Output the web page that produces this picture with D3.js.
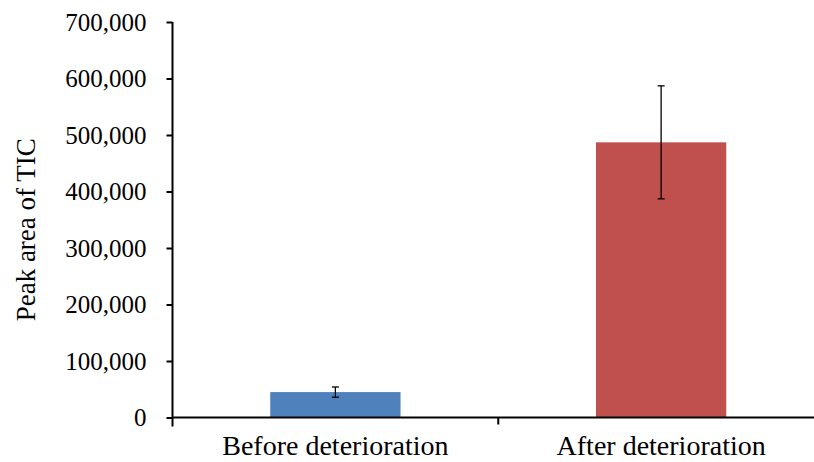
<!DOCTYPE html>
<html>
<head>
<meta charset="utf-8">
<script src="https://cdn.jsdelivr.net/npm/d3@7"></script>
<style>
  html, body { margin: 0; padding: 0; background: #fff; }
  svg { display: block; }
  text { font-family: "Liberation Serif", "Times New Roman", "DejaVu Serif", serif; fill: #000; }
</style>
</head>
<body>
<svg id="chart" width="814" height="462"></svg>
<script>
// Peak area of the total ion chromatogram, mean with standard deviation
const categories = ["Before deterioration", "After deterioration"];
const means = [45000, 487000];
const errors = [9000, 100000];
const colors = ["#4F81BD", "#C0504D"];
const yTicks = [0, 100000, 200000, 300000, 400000, 500000, 600000, 700000];
const yTitle = "Peak area of TIC";

const svg = d3.select("#chart");
const W = 814, H = 462;
const plotLeft = 172.5, plotTop = 22, plotBottom = 417.5, plotRight = 824;
const serif = "'Liberation Serif', 'Times New Roman', 'DejaVu Serif', serif";

const x = d3.scaleBand()
  .domain(categories)
  .range([plotLeft, plotRight])
  .paddingInner(0.6)
  .paddingOuter(0.3);

const y = d3.scaleLinear()
  .domain([0, 700000])
  .range([plotBottom, plotTop]);

const fmt = d3.format(",");

// Bars
svg.append("g")
  .selectAll("rect")
  .data(categories)
  .join("rect")
  .attr("x", d => x(d))
  .attr("width", x.bandwidth())
  .attr("y", (d, i) => y(means[i]))
  .attr("height", (d, i) => y(0) - y(means[i]))
  .attr("fill", (d, i) => colors[i]);

// Error bars
const eb = svg.append("g").attr("stroke", "#000").attr("stroke-width", 1.3);
categories.forEach((c, i) => {
  const cx = x(c) + x.bandwidth() / 2;
  const y0 = y(means[i] - errors[i]), y1 = y(means[i] + errors[i]);
  eb.append("line").attr("x1", cx).attr("x2", cx).attr("y1", y0).attr("y2", y1);
  eb.append("line").attr("x1", cx - 3.5).attr("x2", cx + 3.5).attr("y1", y0).attr("y2", y0);
  eb.append("line").attr("x1", cx - 3.5).attr("x2", cx + 3.5).attr("y1", y1).attr("y2", y1);
});

// Y axis
const yAxis = svg.append("g")
  .attr("transform", `translate(${plotLeft},0)`)
  .call(d3.axisLeft(y).tickValues(yTicks).tickFormat(fmt).tickSize(6).tickSizeOuter(0).tickPadding(20));
yAxis.attr("font-family", null);
yAxis.select(".domain").attr("stroke", "#000").attr("stroke-width", 2)
  .attr("d", `M0,${plotTop}V${plotBottom + 9}`);
yAxis.selectAll(".tick line").attr("stroke", "#000").attr("stroke-width", 2);
yAxis.selectAll(".tick text")
  .style("font-family", serif)
  .style("font-size", "25px").attr("fill", "#000");

// X axis with boundary ticks between categories
const xAxisG = svg.append("g");
xAxisG.append("line")
  .attr("x1", plotLeft).attr("x2", W).attr("y1", plotBottom).attr("y2", plotBottom)
  .attr("stroke", "#000").attr("stroke-width", 2);
const boundaries = categories.map(c => x(c) - x.step() * x.paddingInner() / 2).slice(1);
xAxisG.selectAll("line.bt")
  .data(boundaries)
  .join("line")
  .attr("class", "bt")
  .attr("x1", d => d).attr("x2", d => d)
  .attr("y1", plotBottom).attr("y2", plotBottom + 7)
  .attr("stroke", "#000").attr("stroke-width", 2);
xAxisG.selectAll("text")
  .data(categories)
  .join("text")
  .attr("x", d => x(d) + x.bandwidth() / 2)
  .attr("y", 455)
  .attr("text-anchor", "middle")
  .style("font-family", serif)
  .style("font-size", "28px")
  .text(d => d);

// Y title
svg.append("text")
  .attr("transform", `translate(35,${(plotTop + plotBottom) / 2 + 10}) rotate(-90)`)
  .attr("text-anchor", "middle")
  .style("font-family", serif)
  .style("font-size", "27px")
  .text(yTitle);
</script>
</body>
</html>
